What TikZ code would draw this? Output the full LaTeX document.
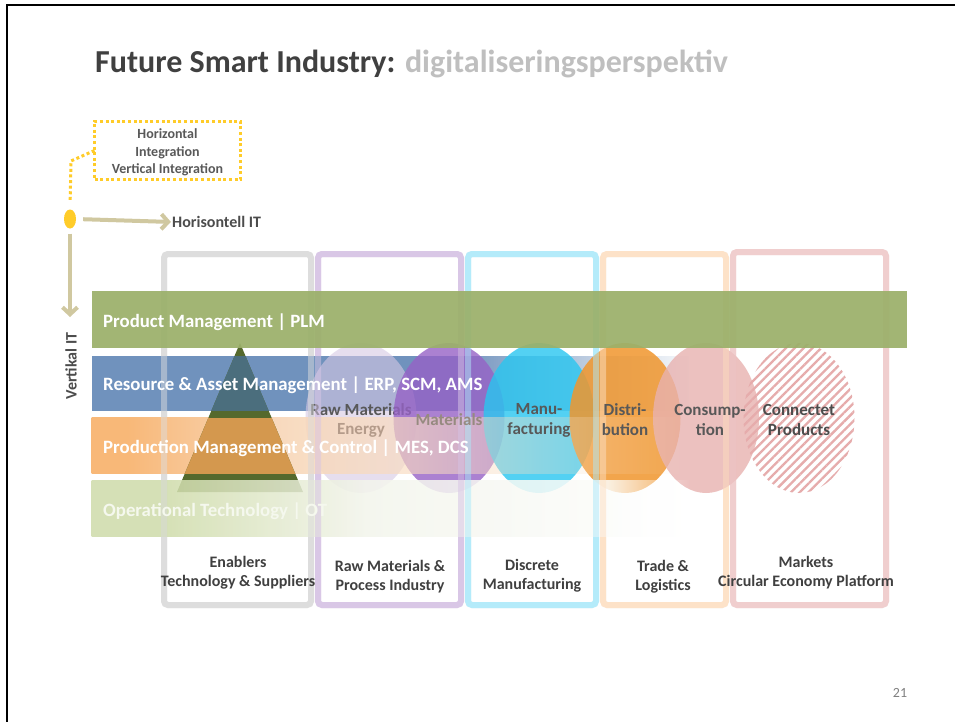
\documentclass[tikz,border=0pt]{standalone}
\usepackage{fontspec}
\setmainfont{Carlito}
\usetikzlibrary{arrows.meta,fadings,patterns.meta,shapes.geometric}

\definecolor{ttl}{RGB}{64,64,64}
\definecolor{ttlb}{RGB}{191,191,191}
\definecolor{lbltxt}{RGB}{64,64,64}
\definecolor{circtxt}{RGB}{88,88,88}
\definecolor{tanc}{RGB}{208,200,160}
\definecolor{ydot}{RGB}{255,204,41}
\definecolor{cgray}{RGB}{221,221,221}
\definecolor{cpurp}{RGB}{217,199,230}
\definecolor{ccyan}{RGB}{180,235,250}
\definecolor{cpeach}{RGB}{253,226,200}
\definecolor{cpink}{RGB}{240,206,206}
\definecolor{bgreen}{RGB}{155,176,106}
\definecolor{bblue}{RGB}{112,146,189}
\definecolor{borange}{RGB}{248,184,120}
\definecolor{bpeach}{RGB}{248,215,185}
\definecolor{bpeachb}{RGB}{250,228,205}
\definecolor{bot}{RGB}{207,220,170}
\definecolor{otpale}{RGB}{243,245,236}
\definecolor{kA}{RGB}{214,200,228}
\definecolor{kB}{RGB}{150,98,198}
\definecolor{kC}{RGB}{40,198,240}
\definecolor{kD}{RGB}{240,150,45}
\definecolor{kE}{RGB}{232,178,176}
\definecolor{hatchc}{RGB}{230,172,172}
\definecolor{tridark}{RGB}{85,105,45}
\definecolor{triblue}{RGB}{75,110,125}
\definecolor{triorange}{RGB}{212,152,78}
\definecolor{energyc}{RGB}{180,155,138}
\definecolor{matc}{RGB}{150,138,128}

% shadings / fadings: path bounding box maps to 25bp..75bp
\pgfdeclarehorizontalshading{shBlueF}{100bp}{color(0bp)=(white); color(55bp)=(white); color(76bp)=(black); color(100bp)=(black)}
\pgfdeclarefading{fBlue}{\pgfuseshading{shBlueF}}
\pgfdeclarehorizontalshading{shOrange}{100bp}{color(0bp)=(borange); color(28bp)=(borange); color(40bp)=(bpeach); color(75bp)=(bpeachb); color(100bp)=(bpeachb)}
\pgfdeclarehorizontalshading{shOrangeF}{100bp}{color(0bp)=(white); color(38bp)=(white); color(75bp)=(black); color(100bp)=(black)}
\pgfdeclarefading{fOrange}{\pgfuseshading{shOrangeF}}
\pgfdeclarehorizontalshading{shOT}{100bp}{color(0bp)=(bot); color(31bp)=(bot); color(48bp)=(otpale); color(75bp)=(white); color(100bp)=(white)}
\pgfdeclarehorizontalshading{shOTF}{100bp}{color(0bp)=(white!86!black); color(68bp)=(white!86!black); color(75bp)=(black); color(100bp)=(black)}
\pgfdeclarefading{fOT}{\pgfuseshading{shOTF}}

\begin{document}
\begin{tikzpicture}[x=1pt,y=-1pt,
  colbox/.style={rounded corners=4pt, line width=6pt, outer sep=0pt, inner sep=0pt},
  coltxt/.style={font=\bfseries\fontsize{16}{19}\selectfont, text=lbltxt, align=center, inner sep=0pt},
  bandtxt/.style={font=\bfseries\fontsize{18.8}{22}\selectfont, text=white, anchor=west, inner sep=0pt},
  circ/.style={ellipse, minimum width=111pt, minimum height=150pt, inner sep=0pt, outer sep=0pt},
  ctxt/.style={font=\bfseries\fontsize{17}{20}\selectfont, text=circtxt, align=center, inner sep=0pt},
  tanarr/.style={draw=tanc, line width=4pt, -{Straight Barb[length=7pt,width=15pt]}},
  ydotline/.style={draw=ydot, line width=3pt, dash pattern=on 3pt off 2.6pt}
]
\useasboundingbox (0,0) rectangle (955,722);
\fill[white] (0,0) rectangle (955,722);

% frame
\draw[line width=1.8pt, black] (7,722) -- (7,5) -- (955,5);

% title
\node[anchor=base west, inner sep=0pt, font=\bfseries\fontsize{32}{36}\selectfont] (title) at (95,72.5)
  {\textcolor{ttl}{Future Smart Industry:} \textcolor{ttlb}{digitaliseringsperspektiv}};

% columns (base layer)
\node[colbox, draw=cgray,  minimum width=147pt, minimum height=351pt] (col1) at (237.5,429.5) {};
\node[colbox, draw=cpurp,  minimum width=143pt, minimum height=351pt] (col2) at (389.5,429.5) {};
\node[colbox, draw=ccyan,  minimum width=128pt, minimum height=351pt] (col3) at (532,429.5) {};
\node[colbox, draw=cpeach, minimum width=123pt, minimum height=351pt] (col4) at (664.5,429.5) {};
\node[colbox, draw=cpink,  minimum width=153pt, minimum height=353pt] (col5) at (809.5,428.5) {};

% blue band
\fill[bblue, path fading=fBlue] (92,356) rectangle (690,411);

% circles
\node[circ, fill=kA, fill opacity=0.6] (k1) at (361,418) {};
\node[ctxt, text=circtxt] (k1t) at ([yshift=8pt]k1) {Raw Materials};
\node[circ, fill=kB, fill opacity=0.8] (k2) at (449,418) {};
\node[circ, fill=kC, fill opacity=0.8] (k3) at (539,418) {};
\node[circ, fill=kD, fill opacity=0.85] (k4) at (625,418) {};
\node[circ, fill=kE, fill opacity=0.8, minimum width=106pt] (k5) at (706,418) {};
\node[circ, pattern={Lines[angle=45,distance=6.2pt,line width=2.3pt]}, pattern color=hatchc] (k6) at (799,418) {};

% orange band
\shade[shading=shOrange, path fading=fOrange] (92,418) rectangle (690,474);

% triangle
\fill[tridark] (240,343) -- (177,492) -- (303,492) -- cycle;
\begin{scope}
  \clip (240,343) -- (177,492) -- (303,492) -- cycle;
  \fill[triblue] (150,356) rectangle (330,411);
  \fill[triorange] (150,418) rectangle (330,474);
\end{scope}

% operational technology band
\shade[shading=shOT, path fading=fOT] (92,481) rectangle (690,537);

% columns overlay
\foreach \c/\cc in {col1/cgray,col2/cpurp,col3/ccyan,col4/cpeach,col5/cpink}{
  \draw[colbox, draw=\cc, draw opacity=0.5] (\c.north west) rectangle (\c.south east);
}

% green band
\fill[bgreen, fill opacity=0.93] (92,291) rectangle (907,348);

% band texts
\node[bandtxt] (b1) at (103,322) {Product Management | PLM};
\node[bandtxt] (b2) at (103,385) {Resource \& Asset Management | ERP, SCM, AMS};
\node[bandtxt] (b3) at (103,448) {Production Management \& Control | MES, DCS};
\node[bandtxt, text=white!80!bot] (b4) at (103,511) {Operational Technology | OT};

% circle texts
\node[ctxt, text=energyc] (k1e) at ([yshift=-12pt]k1) {Energy};
\node[ctxt, text=matc] (k2t) at ([yshift=-2pt]k2) {Materials};
\node[ctxt] (k3t) at ([yshift=-2pt]k3) {Manu-\\facturing};
\node[ctxt] (k4t) at ([yshift=-2pt]k4) {Distri-\\bution};
\node[ctxt] (k5t) at ([yshift=-2pt,xshift=4pt]k5) {Consump-\\tion};
\node[ctxt, text=black!70] (k6t) at ([yshift=-2pt]k6) {Connectet\\Products};

% column labels
\node[coltxt] (l1) at (238,573) {Enablers\\Technology \& Suppliers};
\node[coltxt] (l2) at (390,577) {Raw Materials \&\\Process Industry};
\node[coltxt] (l3) at (532,576) {Discrete\\Manufacturing};
\node[coltxt] (l4) at (663,577) {Trade \&\\Logistics};
\node[coltxt] (l5) at (806,573) {Markets\\Circular Economy Platform};

% integration box
\node[draw=ydot, line width=3pt, dash pattern=on 3pt off 2.6pt, minimum width=146pt, minimum height=58pt,
      outer sep=0pt, inner sep=0pt] (yb) at (167.5,150.5) {};
\node[inner sep=0pt, align=center, text=black!65, font=\bfseries\fontsize{14}{17.5}\selectfont] (ybt)
  at ([yshift=-2pt]yb) {Horizontal\\Integration\\Vertical Integration};
\node[ellipse, fill=ydot, minimum width=12pt, minimum height=19pt, inner sep=0pt] (dot) at (70,219) {};
\coordinate (bend) at (71,161);
\draw[ydotline, shorten >=8pt] (yb.west) -- (bend) -- (dot.north);

% IT arrows
\node[anchor=west, inner sep=0pt, font=\bfseries\fontsize{16}{19}\selectfont, text=black!70] (hIT) at (172,222) {Horisontell IT};
\draw[tanarr, shorten <=7pt, shorten >=1pt] (dot.east) -- (hIT.west);
\coordinate (vEnd) at (70,317);
\draw[tanarr, shorten <=5pt] (dot.south) -- (vEnd);
\node[rotate=90, inner sep=0pt, font=\bfseries\fontsize{16}{19}\selectfont, text=black!70] (vIT) at (71,366) {Vertikal IT};

% page number
\node[inner sep=0pt, font=\fontsize{14}{16}\selectfont, text=black!50] (pg) at (900,693) {21};
\end{tikzpicture}
\end{document}
